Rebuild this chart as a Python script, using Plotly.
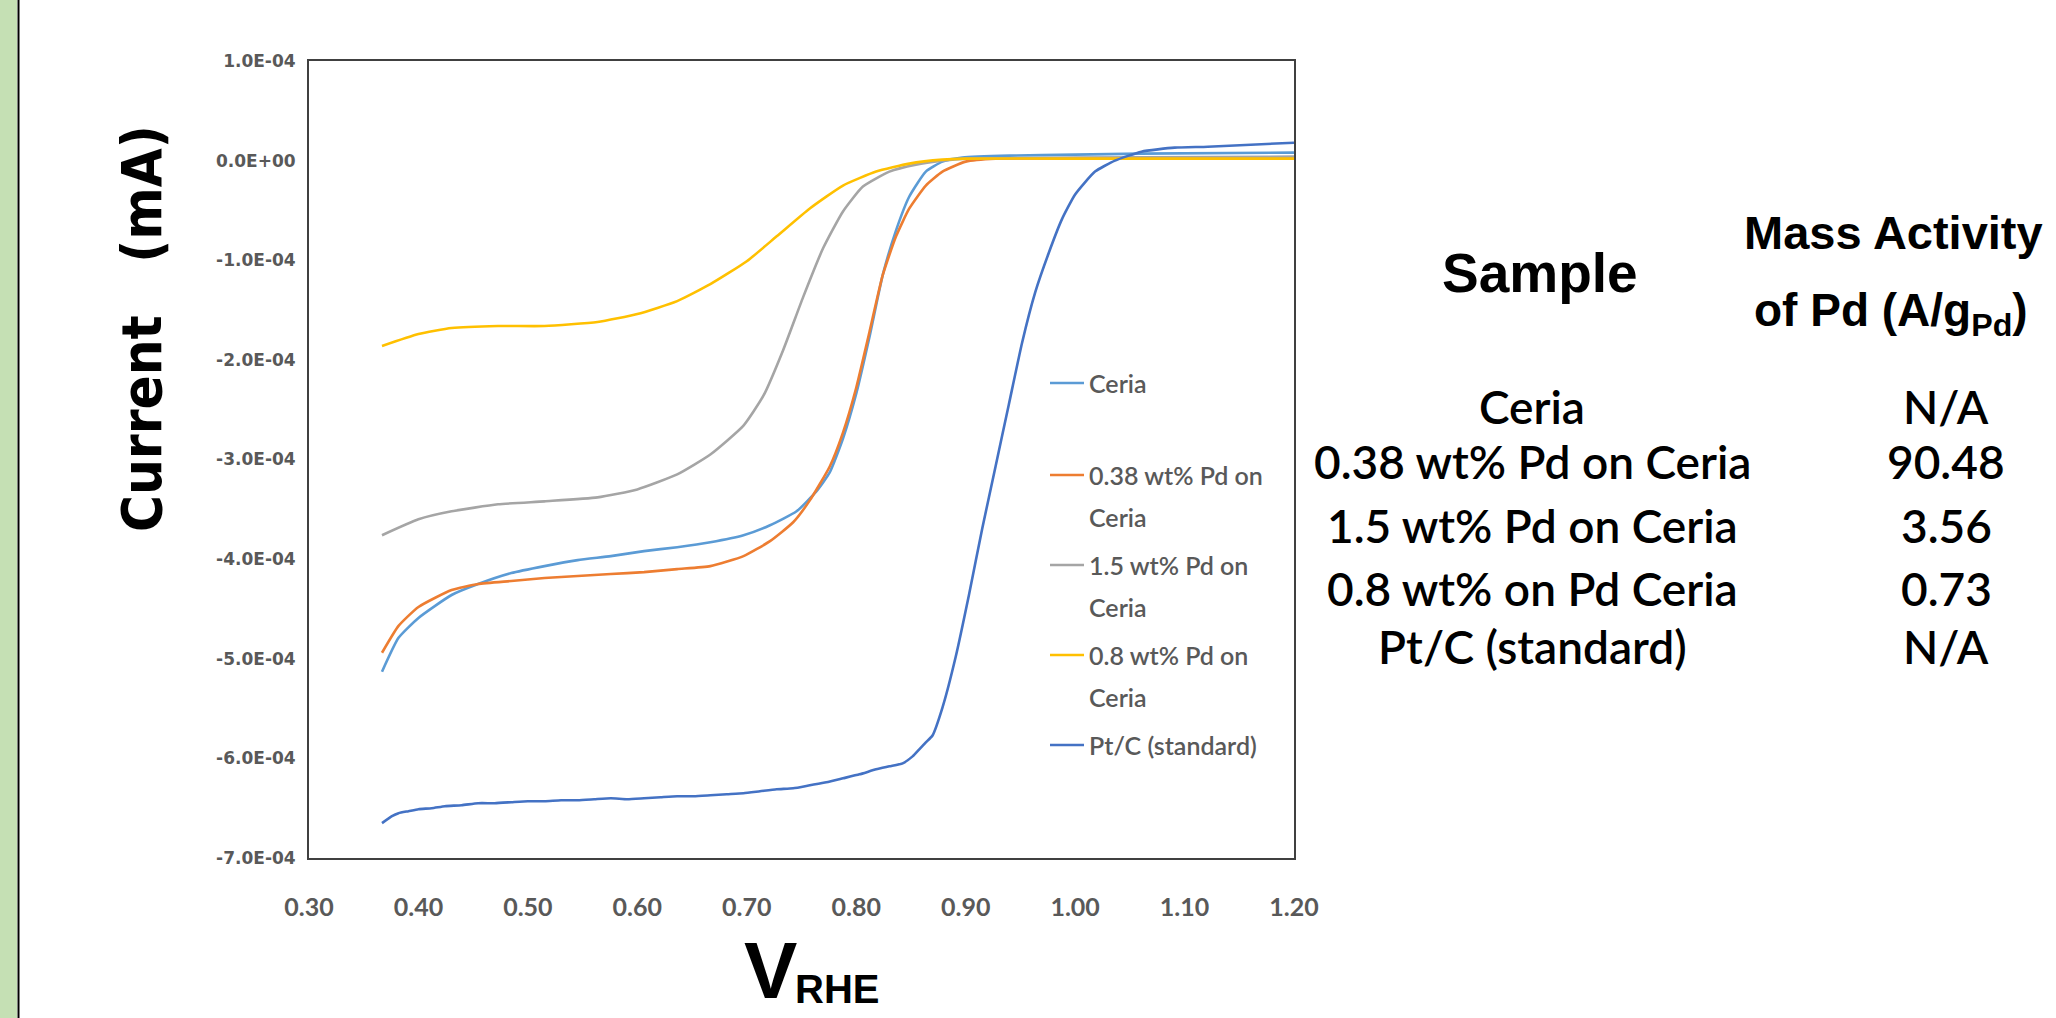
import numpy as np
import plotly.graph_objects as go

# ---------------- data (current in units of 1e-4 mA) ----------------
V_ceria = [0.3667, 0.3818, 0.40, 0.4303, 0.4545, 0.4848, 0.5152, 0.5455, 0.5758, 0.6061,
           0.6364, 0.6667, 0.6970, 0.7212, 0.7455, 0.7636, 0.7758, 0.7879, 0.80, 0.8121,
           0.8242, 0.8364, 0.8485, 0.8636, 0.8788, 0.8970, 0.94, 1.0, 1.06, 1.2]
I_ceria = [-5.13, -4.79, -4.59, -4.36, -4.25, -4.14, -4.07, -4.01, -3.97, -3.92,
           -3.88, -3.83, -3.76, -3.66, -3.52, -3.32, -3.13, -2.79, -2.34, -1.77,
           -1.15, -0.70, -0.36, -0.11, -0.01, 0.03, 0.05, 0.06, 0.07, 0.08]

V_pd038 = [0.3667, 0.3818, 0.40, 0.4303, 0.4545, 0.4848, 0.5152, 0.5455, 0.5758, 0.6061,
           0.6364, 0.6667, 0.6970, 0.7212, 0.7424, 0.7576, 0.7758, 0.7879, 0.80, 0.8121,
           0.8242, 0.8364, 0.8485, 0.8636, 0.8788, 0.90, 0.9273, 1.0, 1.2]
I_pd038 = [-4.94, -4.67, -4.48, -4.31, -4.25, -4.22, -4.19, -4.17, -4.15, -4.13,
           -4.10, -4.07, -3.97, -3.82, -3.63, -3.41, -3.07, -2.73, -2.28, -1.72,
           -1.15, -0.76, -0.48, -0.25, -0.11, -0.01, 0.02, 0.02, 0.02]

V_pd15 = [0.3667, 0.40, 0.4303, 0.4727, 0.5152, 0.5636, 0.60, 0.6364, 0.6667, 0.6970,
          0.7152, 0.7333, 0.7515, 0.7697, 0.7879, 0.8061, 0.8303, 0.8545, 0.8788, 0.90,
          1.0, 1.2]
I_pd15 = [-3.76, -3.60, -3.52, -3.45, -3.42, -3.38, -3.30, -3.15, -2.95, -2.66,
          -2.36, -1.90, -1.37, -0.88, -0.51, -0.26, -0.11, -0.04, 0.0, 0.02,
          0.03, 0.04]

V_pd08 = [0.3667, 0.40, 0.4303, 0.4727, 0.5152, 0.5636, 0.60, 0.6364, 0.6667, 0.70,
          0.7273, 0.7576, 0.7879, 0.8182, 0.8485, 0.8788, 0.90, 1.0, 1.2]
I_pd08 = [-1.86, -1.74, -1.68, -1.66, -1.66, -1.62, -1.54, -1.41, -1.24, -1.01,
          -0.76, -0.48, -0.25, -0.11, -0.03, 0.01, 0.02, 0.02, 0.02]

V_ptc = [0.3667, 0.3758, 0.3818, 0.3909, 0.40, 0.4121, 0.4242, 0.4394, 0.4545, 0.4697,
         0.4848, 0.50, 0.5152, 0.5303, 0.5455, 0.5606, 0.5758, 0.5909, 0.6061, 0.6212,
         0.6364, 0.6515, 0.6667, 0.6818, 0.6970, 0.7121, 0.7273, 0.7424, 0.7576, 0.7727,
         0.7879, 0.8030, 0.8182, 0.8303, 0.8424, 0.8515, 0.8576, 0.8636, 0.8697, 0.8788,
         0.8909, 0.9030, 0.9152, 0.9273, 0.9394, 0.9515, 0.9636, 0.9758, 0.9879, 1.0,
         1.0182, 1.0364, 1.0606, 1.0909, 1.1212, 1.2]
I_ptc = [-6.65, -6.58, -6.55, -6.53, -6.51, -6.50, -6.48, -6.47, -6.45, -6.45,
         -6.44, -6.43, -6.43, -6.42, -6.42, -6.41, -6.40, -6.41, -6.40, -6.39,
         -6.38, -6.38, -6.37, -6.36, -6.35, -6.33, -6.31, -6.30, -6.27, -6.24,
         -6.20, -6.16, -6.11, -6.08, -6.05, -5.98, -5.91, -5.84, -5.77, -5.49,
         -4.98, -4.36, -3.69, -3.07, -2.45, -1.83, -1.32, -0.93, -0.59, -0.34,
         -0.11, 0.0, 0.09, 0.13, 0.14, 0.18]

series_names = ["Ceria", "0.38 wt% Pd on<br>Ceria", "1.5 wt% Pd on<br>Ceria",
                "0.8 wt% Pd on<br>Ceria", "Pt/C (standard)"]
series_colors = ["#5B9BD5", "#ED7D31", "#A5A5A5", "#FFC000", "#4472C4"]
series_V = [V_ceria, V_pd038, V_pd15, V_pd08, V_ptc]
series_I = [I_ceria, I_pd038, I_pd15, I_pd08, I_ptc]

y_tickvals = [1e-4, 0.0, -1e-4, -2e-4, -3e-4, -4e-4, -5e-4, -6e-4, -7e-4]
y_ticktext = ["1.0E-04", "0.0E+00", "-1.0E-04", "-2.0E-04", "-3.0E-04",
              "-4.0E-04", "-5.0E-04", "-6.0E-04", "-7.0E-04"]

table_samples = ["Ceria", "0.38 wt% Pd on Ceria", "1.5 wt% Pd on Ceria",
                 "0.8 wt% on Pd Ceria", "Pt/C (standard)"]
table_activity = ["N/A", "90.48", "3.56", "0.73", "N/A"]

# ---------------- layout geometry (pixels) ----------------
W, H = 2056, 1018
L, R, T, B = 309, 1294, 61, 858


def px(x):
    return (x - L) / (R - L)


def py(y):
    return (B - y) / (B - T)


fig = go.Figure()
for name, col, v, i in zip(series_names, series_colors, series_V, series_I):
    fig.add_trace(go.Scatter(x=v, y=np.array(i) * 1e-4, mode="lines", name=name,
                             line=dict(color=col, width=2.6, shape="spline", smoothing=0.5),
                             showlegend=False))

shapes = []
annotations = []

# left green strip and black rule
shapes.append(dict(type="rect", xref="paper", yref="paper", x0=px(0), x1=px(17),
                   y0=py(H), y1=py(0), fillcolor="#C5E0B4", line=dict(width=0), layer="below"))
shapes.append(dict(type="line", xref="paper", yref="paper", x0=px(18.5), x1=px(18.5),
                   y0=py(H), y1=py(0), line=dict(color="#000000", width=2)))

# legend (drawn manually, Excel style)
leg_rows = [383, 475, 565, 655, 745]
for name, col, yy in zip(series_names, series_colors, leg_rows):
    shapes.append(dict(type="line", xref="paper", yref="paper", x0=px(1050), x1=px(1084),
                       y0=py(yy), y1=py(yy), line=dict(color=col, width=2.6)))
    parts = name.split("<br>")
    for k, p in enumerate(parts):
        annotations.append(dict(xref="paper", yref="paper", x=px(1087), y=py(yy + 42 * k),
                                xanchor="left", yanchor="middle", text=p, showarrow=False,
                                font=dict(family="Lato", size=25, color="#595959", weight=600)))

# axis titles
annotations.append(dict(xref="paper", yref="paper", x=px(141), y=py(329), text="Current\u00a0\u00a0\u00a0(mA)",
                        textangle=-90, showarrow=False, xanchor="center", yanchor="middle",
                        font=dict(family="Liberation Sans Narrow, DejaVu Sans Condensed, Liberation Sans",
                                  size=56, color="#000000", weight="bold")))
annotations.append(dict(xref="paper", yref="paper", x=px(770), y=py(970), text="V",
                        showarrow=False, xanchor="center", yanchor="middle",
                        font=dict(family="Liberation Sans", size=80, color="#000000", weight="bold")))
annotations.append(dict(xref="paper", yref="paper", x=px(793), y=py(989), text="RHE",
                        showarrow=False, xanchor="left", yanchor="middle",
                        font=dict(family="Liberation Sans", size=40, color="#000000", weight="bold")))

# table headers
annotations.append(dict(xref="paper", yref="paper", x=px(1540), y=py(273), text="Sample",
                        showarrow=False, xanchor="center", yanchor="middle",
                        font=dict(family="Liberation Sans", size=55, color="#000000", weight="bold")))
annotations.append(dict(xref="paper", yref="paper", x=px(1893), y=py(232), text="Mass Activity",
                        showarrow=False, xanchor="center", yanchor="middle",
                        font=dict(family="Liberation Sans", size=47, color="#000000", weight="bold")))
annotations.append(dict(xref="paper", yref="paper", x=px(1891), y=py(314), text="of Pd (A/g<sub>Pd</sub>)",
                        showarrow=False, xanchor="center", yanchor="middle",
                        font=dict(family="Liberation Sans", size=46, color="#000000", weight="bold")))

# table rows
row_y = [406, 461, 525, 588, 646]
for s, a, yy in zip(table_samples, table_activity, row_y):
    annotations.append(dict(xref="paper", yref="paper", x=px(1532), y=py(yy), text=s,
                            showarrow=False, xanchor="center", yanchor="middle",
                            font=dict(family="Lato", size=46, color="#000000", weight=600)))
    annotations.append(dict(xref="paper", yref="paper", x=px(1946), y=py(yy), text=a,
                            showarrow=False, xanchor="center", yanchor="middle",
                            font=dict(family="Lato", size=46, color="#000000", weight=600)))

fig.update_layout(
    width=W, height=H, autosize=False,
    margin=dict(l=L, r=W - R, t=T, b=H - B, pad=0),
    paper_bgcolor="white", plot_bgcolor="white",
    shapes=shapes, annotations=annotations,
    xaxis=dict(range=[0.3, 1.2], dtick=0.1, tick0=0.3, tickformat=".2f",
               showgrid=False, zeroline=False, showline=True, mirror=True,
               linecolor="#404040", linewidth=2, ticks="", ticklabelstandoff=26,
               tickfont=dict(family="Lato", size=25, color="#595959", weight="bold")),
    yaxis=dict(range=[-7e-4, 1e-4], tickvals=y_tickvals, ticktext=y_ticktext,
               showgrid=False, zeroline=False, showline=True, mirror=True,
               linecolor="#404040", linewidth=2, ticks="", ticklabelstandoff=8,
               tickfont=dict(family="DejaVu Sans", size=17, color="#595959", weight="bold")),
)

fig.write_html("out.html", config={"displayModeBar": False},
               post_script="document.body.style.margin='0';document.body.style.overflow='hidden';")
